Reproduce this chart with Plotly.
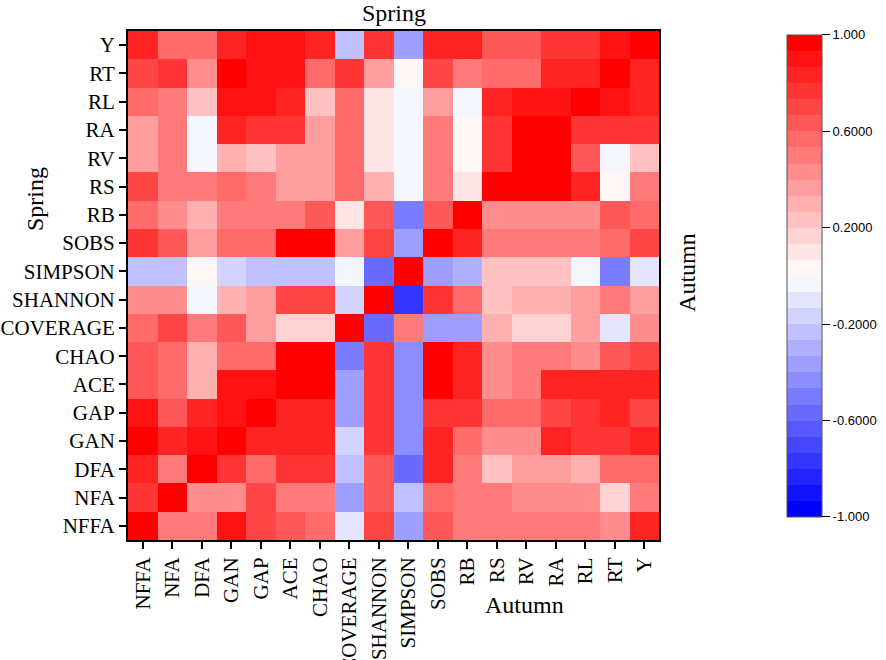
import plotly.graph_objects as go

# variables, same order on both axes (bottom-up on y)
labels = ["NFFA", "NFA", "DFA", "GAN", "GAP", "ACE", "CHAO", "COVERAGE", "SHANNON",
          "SIMPSON", "SOBS", "RB", "RS", "RV", "RA", "RL", "RT", "Y"]

# correlation rows, top row (Y) first
row_Y        = [0.80, 0.60, 0.55, 0.85, 0.87, 0.87, 0.82, -0.20, 0.75, -0.35, 0.85, 0.85, 0.62, 0.62, 0.75, 0.75, 0.90, 1.00]
row_RT       = [0.72, 0.78, 0.45, 0.95, 0.88, 0.93, 0.55, 0.75, 0.35, 0.03, 0.68, 0.50, 0.55, 0.55, 0.80, 0.80, 1.00, 0.85]
row_RL       = [0.55, 0.50, 0.20, 0.87, 0.87, 0.82, 0.25, 0.60, 0.12, -0.05, 0.38, -0.05, 0.82, 0.88, 0.90, 1.00, 0.88, 0.80]
row_RA       = [0.35, 0.50, -0.05, 0.80, 0.75, 0.75, 0.35, 0.60, 0.12, -0.05, 0.50, 0.03, 0.75, 1.00, 1.00, 0.75, 0.75, 0.75]
row_RV       = [0.35, 0.50, -0.05, 0.28, 0.20, 0.35, 0.35, 0.60, 0.12, -0.05, 0.50, 0.03, 0.75, 1.00, 1.00, 0.65, -0.05, 0.20]
row_RS       = [0.72, 0.50, 0.50, 0.60, 0.52, 0.35, 0.35, 0.55, 0.28, -0.05, 0.50, 0.12, 1.00, 1.00, 1.00, 0.80, 0.03, 0.50]
row_RB       = [0.55, 0.45, 0.28, 0.48, 0.48, 0.52, 0.62, 0.12, 0.62, -0.50, 0.62, 1.00, 0.40, 0.40, 0.40, 0.40, 0.65, 0.55]
row_SOBS     = [0.75, 0.65, 0.35, 0.60, 0.60, 1.00, 1.00, 0.35, 0.72, -0.40, 1.00, 0.80, 0.48, 0.48, 0.48, 0.48, 0.60, 0.72]
row_SIMPSON  = [-0.20, -0.20, 0.03, -0.15, -0.20, -0.25, -0.25, -0.05, -0.60, 1.00, -0.40, -0.33, 0.20, 0.20, 0.20, -0.03, -0.50, -0.12]
row_SHANNON  = [0.40, 0.40, -0.05, 0.28, 0.35, 0.68, 0.68, -0.18, 1.00, -0.80, 0.78, 0.60, 0.20, 0.28, 0.28, 0.35, 0.48, 0.35]
row_COVERAGE = [0.60, 0.68, 0.50, 0.62, 0.35, 0.18, 0.18, 1.00, -0.60, 0.48, -0.40, -0.35, 0.28, 0.18, 0.18, 0.35, -0.12, 0.45]
row_CHAO     = [0.65, 0.60, 0.28, 0.55, 0.55, 1.00, 1.00, -0.50, 0.75, -0.45, 1.00, 0.82, 0.40, 0.48, 0.48, 0.40, 0.62, 0.68]
row_ACE      = [0.65, 0.60, 0.28, 0.87, 0.87, 1.00, 1.00, -0.40, 0.75, -0.45, 1.00, 0.82, 0.40, 0.48, 0.80, 0.80, 0.80, 0.85]
row_GAP      = [0.87, 0.65, 0.82, 0.93, 0.97, 0.85, 0.80, -0.35, 0.75, -0.45, 0.78, 0.75, 0.60, 0.60, 0.68, 0.75, 0.80, 0.72]
row_GAN      = [0.97, 0.80, 0.90, 0.97, 0.85, 0.85, 0.80, -0.18, 0.75, -0.45, 0.85, 0.55, 0.40, 0.40, 0.80, 0.75, 0.75, 0.80]
row_DFA      = [0.80, 0.50, 1.00, 0.78, 0.58, 0.78, 0.78, -0.25, 0.62, -0.55, 0.80, 0.50, 0.22, 0.38, 0.38, 0.30, 0.58, 0.58]
row_NFA      = [0.75, 1.00, 0.45, 0.45, 0.72, 0.50, 0.50, -0.40, 0.62, -0.25, 0.58, 0.48, 0.48, 0.45, 0.45, 0.45, 0.18, 0.50]
row_NFFA     = [1.00, 0.50, 0.50, 0.90, 0.68, 0.62, 0.55, -0.12, 0.72, -0.35, 0.65, 0.50, 0.50, 0.48, 0.48, 0.48, 0.40, 0.80]

rows_top_down = [row_Y, row_RT, row_RL, row_RA, row_RV, row_RS, row_RB, row_SOBS, row_SIMPSON,
                 row_SHANNON, row_COVERAGE, row_CHAO, row_ACE, row_GAP, row_GAN, row_DFA, row_NFA, row_NFFA]
z = rows_top_down[::-1]

cbar_vals = [1, 0.6, 0.2, -0.2, -0.6, -1]
cbar_text = ["1.000", "0.6000", "0.2000", "-0.2000", "-0.6000", "-1.000"]

# 30 stepped levels, blue -> white -> red
n = 30
def level_color(t):
    if t < 0.5:
        c = int(round(255 * t / 0.5))
        return f"rgb({c},{c},255)"
    c = int(round(255 * (1 - t) / 0.5))
    return f"rgb(255,{c},{c})"

colorscale = []
for k in range(n):
    col = level_color(k / (n - 1))
    colorscale.append([k / n, col])
    colorscale.append([(k + 1) / n, col])

serif = "Liberation Serif"

fig = go.Figure(go.Heatmap(
    z=z, x=labels, y=labels,
    zmin=-1, zmax=1,
    colorscale=colorscale,
    colorbar=dict(
        x=1.241, xanchor="left", xpad=0, ypad=0,
        y=0.519, yanchor="middle",
        thickness=35, len=482, lenmode="pixels",
        outlinecolor="#555", outlinewidth=1,
        tickvals=cbar_vals, ticktext=cbar_text,
        ticks="outside", ticklen=8, tickcolor="black",
        tickfont=dict(family="Liberation Sans", size=13, color="black"),
    ),
))

fig.update_layout(
    width=886, height=660,
    margin=dict(l=128, r=227, t=31, b=120, autoexpand=False),
    plot_bgcolor="white", paper_bgcolor="white",
    font=dict(family=serif, color="black"),
    xaxis=dict(
        tickangle=-90, tickfont=dict(size=21, family=serif), automargin=False,
        ticks="outside", ticklen=7, tickcolor="black", tickwidth=2,
        showline=True, linecolor="black", linewidth=2, mirror=True,
        showgrid=False, zeroline=False,
    ),
    yaxis=dict(
        tickfont=dict(size=21, family=serif), automargin=False,
        ticks="outside", ticklen=7, tickcolor="black", tickwidth=2,
        showline=True, linecolor="black", linewidth=2, mirror=True,
        showgrid=False, zeroline=False,
    ),
    annotations=[
        dict(text="Spring", x=0.5, y=1.0, xref="paper", yref="paper",
             xanchor="center", yanchor="bottom", yshift=3, showarrow=False,
             font=dict(size=24, family=serif)),
        dict(text="Spring", x=-0.175, y=0.67, xref="paper", yref="paper",
             xanchor="center", yanchor="middle", textangle=-90, showarrow=False,
             font=dict(size=24, family=serif)),
        dict(text="Autumn", x=1.053, y=0.525, xref="paper", yref="paper",
             xanchor="center", yanchor="middle", textangle=-90, showarrow=False,
             font=dict(size=24, family=serif)),
        dict(text="Autumn", x=0.747, y=-0.128, xref="paper", yref="paper",
             xanchor="center", yanchor="middle", showarrow=False,
             font=dict(size=24, family=serif)),
    ],
)

# drop the default page margin so the figure sits at the window's corner
fig.write_html("out.html", config={"displayModeBar": False},
               post_script="document.body.style.margin='0';")
